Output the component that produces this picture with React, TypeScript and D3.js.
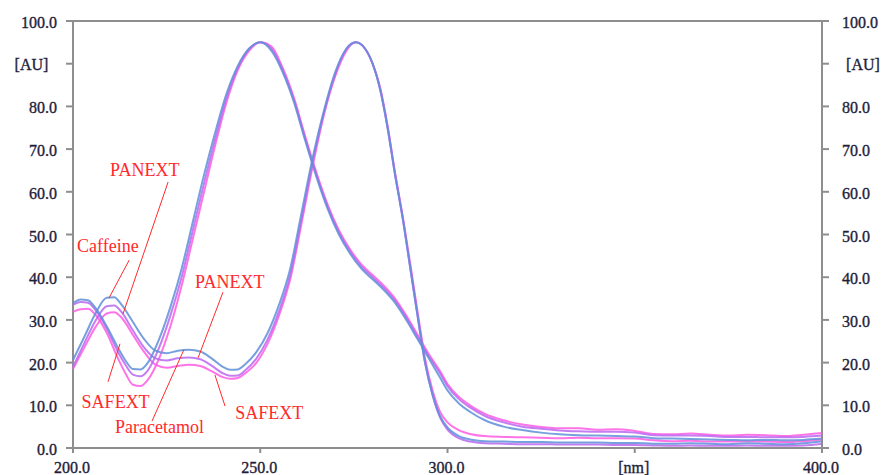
import React from "react";
import * as d3 from "d3";

// ---------- data ----------
const wlA = [200,202,204,206,209,212,214,216,218,220,223,226,229,232,235,238,241,244,247,250,253,256,259,262,265,268,271,274,277,280,283,286,289,292,295,298,300,303,306,310,315,320,325,330,335,340,345,350,355,360,365,370,375,380,385,390,395,400];
const paraStd = [33.9,34.8,34.6,32.8,28.5,23.5,20.5,18.5,18.4,20.0,25.5,33,42,53,64,74,83,89.5,93.5,95,93,88,81,72,63.5,56,50,45.5,42,39.5,37,34,30,25.5,21,16.5,13.5,10.5,8.5,6.5,5.0,4.2,3.6,3.2,3.0,2.9,2.8,2.7,2.3,2.2,2.1,2.0,1.9,1.8,1.9,1.8,1.9,2.2];
const paraPan = [33.5,34.2,34.0,32.3,28,22.5,19.5,17.2,16.8,18.2,23.5,31,40,51,62,72.5,82,89,93.5,95,93.5,88.5,81.5,72.5,64,56.5,50.5,46,42.5,40,37.5,34.5,30.5,26,21.5,17.5,14.5,11.5,9.5,7.5,6.0,5.0,4.5,4.1,3.9,3.8,3.8,3.6,3.0,2.9,2.9,2.8,2.6,2.6,2.5,2.5,2.6,2.9];
const paraSaf = [31.9,32.5,32.6,31.2,27,21,17.5,14.8,14.5,16,21,28.5,38,49,60,71,81,88.5,93,95,94,89,82,73,64.5,57,51,46.5,43,40.5,38,35,31,26.5,22,18,15,12,10,8,6.5,5.5,4.9,4.6,4.6,4.3,4.4,4.0,3.3,3.2,3.4,3.1,2.9,3.1,3.0,2.8,3.1,3.5];

const wlB = [200,203,206,209,211,213,216,219,222,225,228,231,234,237,240,242,244,246,249,252,255,258,261,264,267,270,273,275.5,278,280,282,284,286,288,290,292,294,296,298,300,303,306,310,315,320,325,330,335,340,345,350,355,360,365,370,375,380,385,390,395,400];
const cafStd = [20.6,26,31.5,35.2,35.3,33.5,29.5,25.5,22.8,22.2,22.8,23.0,22.6,21.0,19.0,18.3,18.4,19.6,22.5,27,33.5,42,55,68,79,88,93.5,95,93.5,90,84,75,64,54,42.5,31,20,12.5,7.5,4.8,2.8,2.0,1.6,1.5,1.4,1.4,1.3,1.3,1.3,1.2,1.2,1.0,1.0,1.1,1.0,0.9,1.1,1.0,0.9,1.1,1.6];
const cafPan = [19,24.5,29.8,33.2,33.4,31.8,27.5,23.5,21,20.5,21,21.2,20.8,19.3,17.5,16.9,17,18.2,21,25.5,32,40.5,53.5,67,78.5,87.5,93.5,95,93.5,90,84,75,64,54,42.5,31,20,12.5,7.2,4.3,2.3,1.5,1.1,1.0,0.9,0.9,0.8,0.8,0.8,0.7,0.7,0.6,0.5,0.6,0.5,0.5,0.6,0.5,0.5,0.6,1.0];
const cafSaf = [18.5,23.5,28.3,31.5,31.8,30.5,26.5,22.5,19.5,18.8,19.2,19.5,19.2,18,16.6,16.2,16.4,17.5,20,24.5,31,39.5,52.5,66,78,87,93,95,93.5,90,84.5,75.5,64.5,54.5,43.5,32,21,13.5,8.5,6,4.2,3.3,2.8,2.6,2.5,2.4,2.3,2.4,2.3,2.3,2.2,1.8,1.6,1.7,1.5,1.5,1.6,1.5,1.4,1.6,2.0];

const yTicks = [0,10,20,30,40,50,60,70,80,90,100];
const yTickLabels = ["0.0","10.0","20.0","30.0","40.0","50.0","60.0","70.0","80.0","[AU]","100.0"];
const xTicks = [200,250,300,350,400];
const xTickLabels = ["200.0","250.0","300.0","[nm]","400.0"];

// annotations: label text, label anchor (nm, value), pointer line from/to (nm, value)
const annText = ["PANEXT","Caffeine","SAFEXT","PANEXT","SAFEXT","Paracetamol"];
const annPos: [number, number][] = [[209.9,63.6],[201.1,46.0],[202.3,9.4],[232.6,37.5],[243.3,6.7],[211.2,3.5]];
const annFrom: [number, number][] = [[225.4,62.3],[215.0,44.0],[209.35,15.5],[240.05,36.5],[237.9,17.1],[229.6,23.0]];
const annTo: [number, number][] = [[213.35,31.4],[209.6,35.1],[212.55,24.4],[233.4,21.1],[240.6,9.8],[221.1,6.3]];

const BLUE = "#5f8fd8";
const VIOLET = "#b968f0";
const PINK = "#ff5ae4";

export default function App() {
  const W = 886, H = 475;
  const x = d3.scaleLinear().domain([200, 400]).range([73, 822]);
  const y = d3.scaleLinear().domain([0, 100]).range([448, 21]);
  const line = d3.line<[number, number]>().x(d => x(d[0])).y(d => y(d[1])).curve(d3.curveMonotoneX);
  const mk = (wl: number[], v: number[]) => wl.map((w, i) => [w, v[i]] as [number, number]);

  const series = [
    { d: mk(wlA, paraSaf), c: PINK },
    { d: mk(wlB, cafSaf), c: PINK },
    { d: mk(wlA, paraPan), c: VIOLET },
    { d: mk(wlB, cafPan), c: VIOLET },
    { d: mk(wlA, paraStd), c: BLUE },
    { d: mk(wlB, cafStd), c: BLUE },
  ];

  const axisCol = "#8e8e8e";
  const txtCol = "#1e1e3a";
  const font = "Liberation Serif";
  const [x0, x1] = x.range();
  const [yb, yt] = y.range();
  const tickTxt = { fontFamily: font, fontSize: 16, fill: txtCol, stroke: txtCol, strokeWidth: 0.35 } as const;

  return (
    <svg width={W} height={H} style={{ position: "absolute", left: 0, top: 0, background: "#fff" }}>
      <rect x={0} y={0} width={W} height={H} fill="#fff" />
      {/* frame */}
      <line x1={x0} x2={x1} y1={yt} y2={yt} stroke={axisCol} strokeWidth={2} />
      <line x1={x0} x2={x1} y1={yb} y2={yb} stroke={axisCol} strokeWidth={2} />
      <line x1={x0} x2={x0} y1={yt} y2={yb} stroke={axisCol} strokeWidth={2} />
      <line x1={x1} x2={x1} y1={yt} y2={yb} stroke={axisCol} strokeWidth={2} />
      {yTicks.map((t, i) => (
        <g key={"yt" + i}>
          <line x1={x0 - 7} x2={x0} y1={y(t)} y2={y(t)} stroke={axisCol} strokeWidth={2} />
          <line x1={x1} x2={x1 + 7} y1={y(t)} y2={y(t)} stroke={axisCol} strokeWidth={2} />
          {yTickLabels[i] === "[AU]" ? (
            <>
              <text x={31.5} y={y(t) + 6} textAnchor="middle" {...tickTxt}>{yTickLabels[i]}</text>
              <text x={863} y={y(t) + 6} textAnchor="middle" {...tickTxt}>{yTickLabels[i]}</text>
            </>
          ) : (
            <>
              <text x={57} y={y(t) + 7} textAnchor="end" {...tickTxt}>{yTickLabels[i]}</text>
              <text x={842} y={y(t) + 7} textAnchor="start" {...tickTxt}>{yTickLabels[i]}</text>
            </>
          )}
        </g>
      ))}
      {xTicks.map((t, i) => (
        <g key={"xt" + i}>
          <line x1={x(t)} x2={x(t)} y1={yb} y2={yb + 5} stroke={axisCol} strokeWidth={2} />
          <text x={x(t) - 1} y={473} textAnchor="middle" {...tickTxt}>{xTickLabels[i]}</text>
        </g>
      ))}
      {/* curves */}
      {series.map((s, i) => (
        <path key={"s" + i} d={line(s.d) || ""} fill="none" stroke={s.c} strokeWidth={2} strokeOpacity={0.85} />
      ))}
      {/* annotations */}
      {annText.map((t, i) => (
        <g key={"a" + i}>
          <line x1={x(annFrom[i][0])} y1={y(annFrom[i][1])} x2={x(annTo[i][0])} y2={y(annTo[i][1])} stroke="#ff2a2a" strokeWidth={1} />
          <text x={x(annPos[i][0])} y={y(annPos[i][1])} fontFamily={font} fontSize={18} fill="#ff2a2a">{t}</text>
        </g>
      ))}
    </svg>
  );
}
